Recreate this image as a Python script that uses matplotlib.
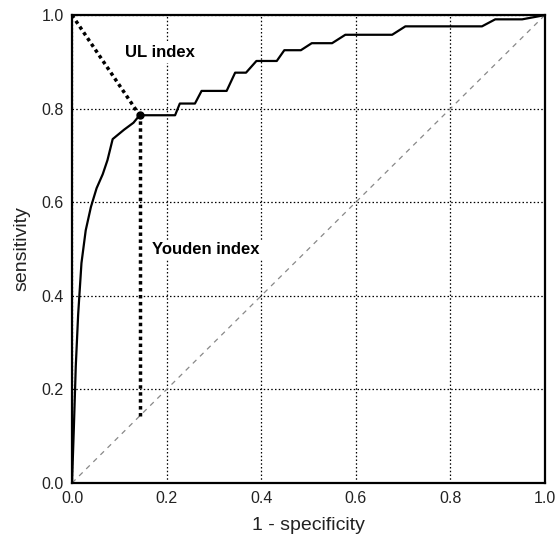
import matplotlib
matplotlib.use("Agg")
import matplotlib.pyplot as plt

plt.rcParams['font.family'] = ['Liberation Sans', 'DejaVu Sans']

# ROC curve points (1 - specificity, sensitivity)
fpr = [0.0, 0.004, 0.008, 0.013, 0.02, 0.029, 0.04, 0.052, 0.065, 0.075,
       0.086, 0.11, 0.13, 0.143, 0.218, 0.228, 0.26, 0.274, 0.327, 0.345,
       0.368, 0.39, 0.433, 0.449, 0.484, 0.507, 0.55, 0.578, 0.677, 0.705,
       0.867, 0.895, 0.952, 1.0]
tpr = [0.0, 0.12, 0.25, 0.36, 0.47, 0.54, 0.59, 0.63, 0.66, 0.69,
       0.735, 0.755, 0.77, 0.786, 0.786, 0.811, 0.811, 0.838, 0.838, 0.877,
       0.877, 0.902, 0.902, 0.925, 0.925, 0.94, 0.94, 0.958, 0.958, 0.976,
       0.976, 0.991, 0.991, 1.0]

# optimal cut-off point
cut_x = 0.143
cut_y = 0.786

ticks = [0.0, 0.2, 0.4, 0.6, 0.8, 1.0]
tick_labels = ['0.0', '0.2', '0.4', '0.6', '0.8', '1.0']

fig = plt.figure(figsize=(5.56, 5.4), dpi=100)
ax = fig.add_axes([0.1295, 0.1056, 0.8505, 0.8664])

ax.set_xlim(0, 1)
ax.set_ylim(0, 1)
ax.set_xticks(ticks)
ax.set_yticks(ticks)
ax.set_xticklabels(tick_labels)
ax.set_yticklabels(tick_labels)
ax.tick_params(length=0, labelsize=11.5, pad=6, labelcolor='#222222')
ax.grid(True, color='black', linestyle=(0, (1.2, 1.8)), linewidth=0.9)
ax.set_axisbelow(True)

for s in ax.spines.values():
    s.set_linewidth(1.6)

# chance line
ax.plot([0, 1], [0, 1], color='#888888', linestyle=(0, (4, 4)), linewidth=0.9)

# ROC curve
ax.plot(fpr, tpr, color='black', linewidth=1.6, zorder=3)

# UL index: distance from the upper-left corner
ax.plot([0, cut_x], [1, cut_y], color='black', linestyle=(0, (1, 1)), linewidth=2.5, zorder=3)
# Youden index: vertical distance to the chance line
ax.plot([cut_x, cut_x], [cut_x, cut_y], color='black', linestyle=(0, (1, 1)), linewidth=2.5, zorder=3)
ax.plot([cut_x], [cut_y], 'o', color='black', markersize=5, zorder=4)

ax.text(0.186, 0.92, 'UL index', fontsize=12, fontweight='bold', ha='center', va='center',
        bbox=dict(facecolor='white', edgecolor='none', pad=2), zorder=2)
ax.text(0.17, 0.498, 'Youden index', fontsize=12, fontweight='bold', ha='left', va='center',
        bbox=dict(facecolor='white', edgecolor='none', pad=2), zorder=2)

ax.set_xlabel('1 - specificity', fontsize=14, labelpad=8, color='#222222')
ax.set_ylabel('sensitivity', fontsize=14, labelpad=8, color='#222222')

fig.savefig('out.png', dpi=100)
